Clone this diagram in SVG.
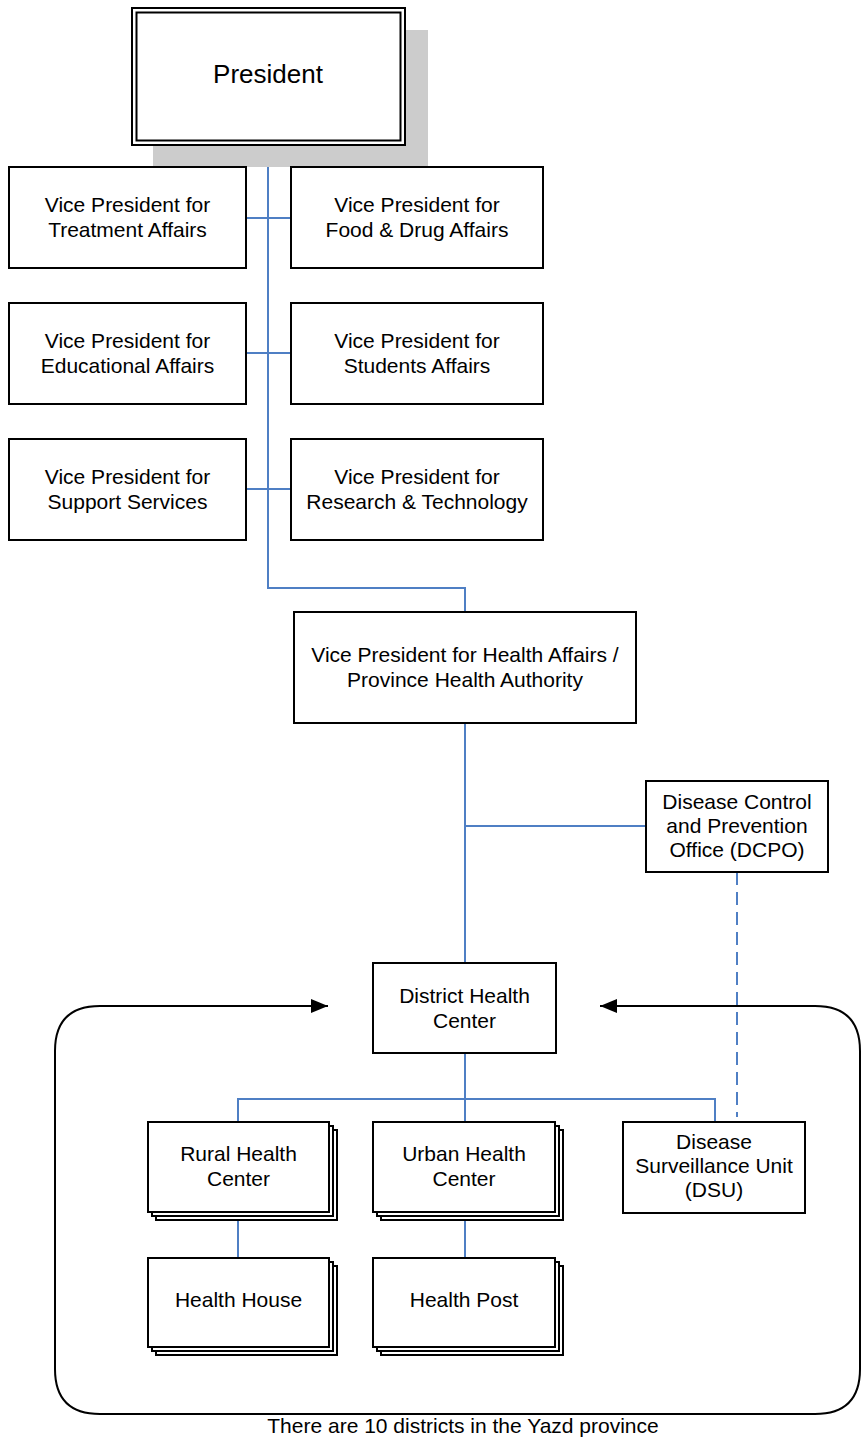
<svg xmlns="http://www.w3.org/2000/svg" width="862" height="1439" viewBox="0 0 862 1439">
<defs>
<style>
.box{fill:#fff;stroke:#000;stroke-width:2}
.t{font-family:"Liberation Sans",Arial,sans-serif;font-size:21px;fill:#000;text-anchor:middle}
.c{fill:none;stroke:#4f7fc4;stroke-width:2}
.d{fill:none;stroke:#4f7fc4;stroke-width:2;stroke-dasharray:13 7}
.o{fill:none;stroke:#000;stroke-width:2}
</style>
<marker id="ah" viewBox="0 0 17 14" refX="17" refY="7" markerWidth="17" markerHeight="14" markerUnits="userSpaceOnUse" orient="auto">
<path d="M0,0 L17,7 L0,14 Z" fill="#000"/>
</marker>
</defs>
<rect width="862" height="1439" fill="#fff"/>

<g id="district-frame">
<path class="o" d="M328,1006 L100,1006 Q55,1006 55,1051 L55,1369 Q55,1414 100,1414 L815,1414 Q860,1414 860,1369 L860,1051 Q860,1006 815,1006 L600,1006"/>
<line x1="120" y1="1006" x2="328" y2="1006" stroke="#000" stroke-width="2" marker-end="url(#ah)"/>
<line x1="800" y1="1006" x2="600" y2="1006" stroke="#000" stroke-width="2" marker-end="url(#ah)"/>
</g>

<g id="connectors">
<path class="c" d="M268,145 L268,588 L465,588 L465,612"/>
<line class="c" x1="246" y1="218" x2="291" y2="218"/>
<line class="c" x1="246" y1="353" x2="291" y2="353"/>
<line class="c" x1="246" y1="489" x2="291" y2="489"/>
<line class="c" x1="465" y1="723" x2="465" y2="963"/>
<line class="c" x1="465" y1="826" x2="646" y2="826"/>
<path class="c" d="M465,1053 L465,1122 M238,1122 L238,1099 L715,1099 L715,1122"/>
<line class="c" x1="238" y1="1212" x2="238" y2="1258"/>
<line class="c" x1="465" y1="1212" x2="465" y2="1258"/>
<line class="d" x1="737" y1="872" x2="737" y2="1117"/>
</g>

<g id="president">
<rect x="153" y="30" width="275" height="137" fill="#cccccc"/>
<rect class="box" x="132" y="8" width="273" height="137"/>
<rect x="136.5" y="12.5" width="264" height="128" fill="none" stroke="#000" stroke-width="2"/>
<text class="t" x="268" y="83" style="font-size:26px">President</text>
</g>

<g id="vp-treatment">
<rect class="box" x="9" y="167" width="237" height="101"/>
<text class="t" x="127.5" y="212">Vice President for</text>
<text class="t" x="127.5" y="237">Treatment Affairs</text>
</g>
<g id="vp-food-drug">
<rect class="box" x="291" y="167" width="252" height="101"/>
<text class="t" x="417" y="212">Vice President for</text>
<text class="t" x="417" y="237">Food &amp; Drug Affairs</text>
</g>
<g id="vp-educational">
<rect class="box" x="9" y="303" width="237" height="101"/>
<text class="t" x="127.5" y="348">Vice President for</text>
<text class="t" x="127.5" y="373">Educational Affairs</text>
</g>
<g id="vp-students">
<rect class="box" x="291" y="303" width="252" height="101"/>
<text class="t" x="417" y="348">Vice President for</text>
<text class="t" x="417" y="373">Students Affairs</text>
</g>
<g id="vp-support">
<rect class="box" x="9" y="439" width="237" height="101"/>
<text class="t" x="127.5" y="484">Vice President for</text>
<text class="t" x="127.5" y="509">Support Services</text>
</g>
<g id="vp-research">
<rect class="box" x="291" y="439" width="252" height="101"/>
<text class="t" x="417" y="484">Vice President for</text>
<text class="t" x="417" y="509">Research &amp; Technology</text>
</g>

<g id="vp-health">
<rect class="box" x="294" y="612" width="342" height="111"/>
<text class="t" x="465" y="662">Vice President for Health Affairs /</text>
<text class="t" x="465" y="687">Province Health Authority</text>
</g>

<g id="dcpo">
<rect class="box" x="646" y="781" width="182" height="91"/>
<text class="t" x="737" y="809">Disease Control</text>
<text class="t" x="737" y="833">and Prevention</text>
<text class="t" x="737" y="857">Office (DCPO)</text>
</g>

<g id="district-health-center">
<rect class="box" x="373" y="963" width="183" height="90"/>
<text class="t" x="464.5" y="1003">District Health</text>
<text class="t" x="464.5" y="1028">Center</text>
</g>

<g id="rural-health-center">
<rect class="box" x="156" y="1130" width="181" height="90"/>
<rect class="box" x="152" y="1126" width="181" height="90"/>
<rect class="box" x="148" y="1122" width="181" height="90"/>
<text class="t" x="238.5" y="1161">Rural Health</text>
<text class="t" x="238.5" y="1186">Center</text>
</g>

<g id="urban-health-center">
<rect class="box" x="381" y="1130" width="182" height="90"/>
<rect class="box" x="377" y="1126" width="182" height="90"/>
<rect class="box" x="373" y="1122" width="182" height="90"/>
<text class="t" x="464" y="1161">Urban Health</text>
<text class="t" x="464" y="1186">Center</text>
</g>

<g id="dsu">
<rect class="box" x="623" y="1122" width="182" height="91"/>
<text class="t" x="714" y="1149">Disease</text>
<text class="t" x="714" y="1173">Surveillance Unit</text>
<text class="t" x="714" y="1197">(DSU)</text>
</g>

<g id="health-house">
<rect class="box" x="156" y="1266" width="181" height="89"/>
<rect class="box" x="152" y="1262" width="181" height="89"/>
<rect class="box" x="148" y="1258" width="181" height="89"/>
<text class="t" x="238.5" y="1307">Health House</text>
</g>

<g id="health-post">
<rect class="box" x="381" y="1266" width="182" height="89"/>
<rect class="box" x="377" y="1262" width="182" height="89"/>
<rect class="box" x="373" y="1258" width="182" height="89"/>
<text class="t" x="464" y="1307">Health Post</text>
</g>

<text class="t" x="463" y="1433">There are 10 districts in the Yazd province</text>
</svg>
